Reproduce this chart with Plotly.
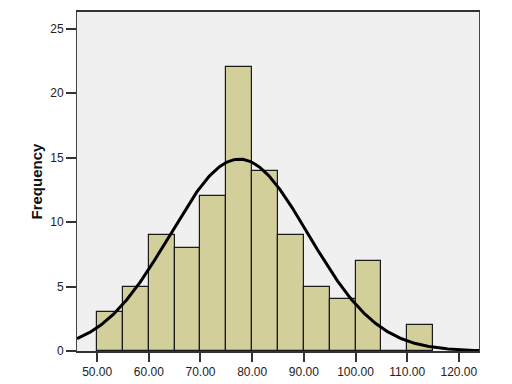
import numpy as np
import plotly.graph_objects as go

# Histogram data (bin start, width 5)
bin_starts = [50, 55, 60, 65, 70, 75, 80, 85, 90, 95, 100, 105, 110]
frequencies = [3, 5, 9, 8, 12, 22, 14, 9, 5, 4, 7, 0, 2]
bin_width = 5

# Fitted normal curve parameters
curve_mean = 77.5
curve_sd = 13.4
n_total = sum(frequencies)

x_ticks = [50, 60, 70, 80, 90, 100, 110, 120]
y_ticks = [0, 5, 10, 15, 20, 25]
y_title = "Frequency"

centers = [b + bin_width / 2 for b in bin_starts]

xs = np.linspace(46.1, 123.9, 300)
ys = n_total * bin_width / (curve_sd * np.sqrt(2 * np.pi)) * np.exp(-0.5 * ((xs - curve_mean) / curve_sd) ** 2)

fig = go.Figure()
fig.add_trace(go.Bar(
    x=centers, y=frequencies, width=[bin_width] * len(centers),
    marker=dict(color="#d3cf9b", line=dict(color="#1a1a1a", width=1.2)),
    showlegend=False,
))
fig.add_trace(go.Scatter(
    x=xs, y=ys, mode="lines",
    line=dict(color="black", width=3),
    showlegend=False,
))

# page body has an 8px default margin; compensate
fig.update_layout(
    width=512, height=384,
    margin=dict(l=69, r=41, t=4, b=41),
    paper_bgcolor="white",
    plot_bgcolor="#f0f0f0",
    bargap=0,
    font=dict(family="Liberation Sans, Arial, sans-serif", color="#222"),
)
fig.update_xaxes(
    range=[46.1, 123.9],
    tickvals=x_ticks,
    ticktext=[f"{v:.2f}" for v in x_ticks],
    ticks="outside", ticklen=9, tickwidth=1.5, tickcolor="#333",
    showgrid=False, zeroline=False, automargin=False,
    showline=True, linecolor="#333", linewidth=1.5, mirror=True,
    tickfont=dict(size=12, color="#222"),
)
fig.update_yaxes(
    range=[0, 26.3],
    tickvals=y_ticks,
    ticks="outside", ticklen=10, tickwidth=1.5, tickcolor="#333",
    showgrid=False, zeroline=False, automargin=False,
    showline=True, linecolor="#444", linewidth=1, mirror=True,
    tickfont=dict(size=12, color="#222"),
)
fig.add_annotation(
    text="<b>" + y_title + "</b>", xref="paper", yref="paper",
    x=(36 - 77) / 402, y=0.5, textangle=-90, showarrow=False,
    xanchor="center", yanchor="middle",
    font=dict(size=15, color="#111"),
)

fig.write_html("out.html")
